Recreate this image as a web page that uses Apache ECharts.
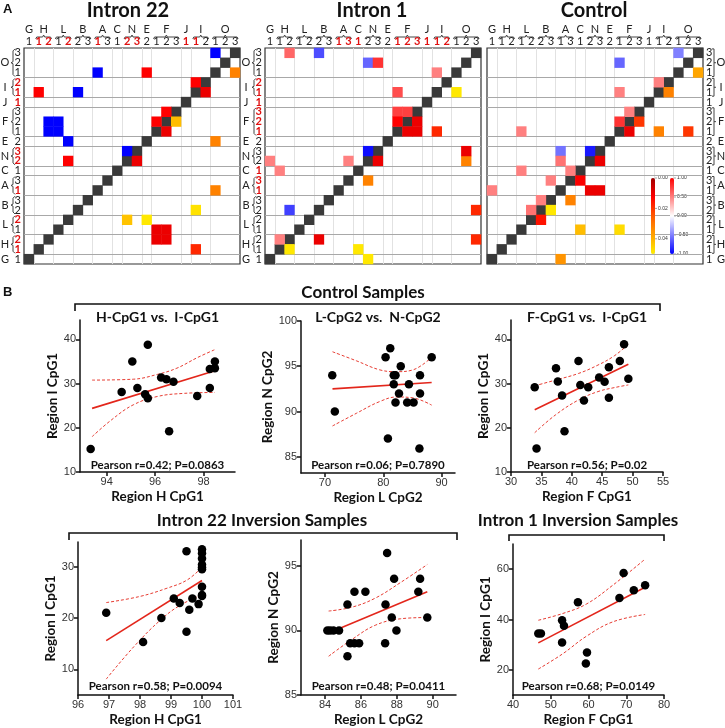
<!DOCTYPE html>
<html><head><meta charset="utf-8">
<script src="https://cdn.jsdelivr.net/npm/echarts@6/dist/echarts.min.js"></script>
<style>html,body{margin:0;padding:0;background:#fff}#c{width:725px;height:728px}</style>
</head><body><div id="c"></div>
<script>
// ================= Panel A data =================
const groups = [['G',[1]],['H',[1,2]],['L',[1,2]],['B',[2,3]],['A',[1,3]],['C',[1]],['N',[2,3]],['E',[2]],['F',[1,2,3]],['J',[1]],['I',[1,2]],['O',[1,2,3]]];
const sites = ['G1','H1','H2','L1','L2','B2','B3','A1','A3','C1','N2','N3','E2','F1','F2','F3','J1','I1','I2','O1','O2','O3'];
const heatTitles = ['Intron 22','Intron 1','Control'];
// [site a, site b, Pearson r, P value]
const pairsIntron22 = [
  ['O1','O3',-1.0,0.032],['A1','O1',-1.0,0.032],['E2','O1',1.0,0.032],
  ['I1','I2',1.0,0.010],['H1','I1',1.0,0.018],['B2','I1',-1.0,0.048],
  ['F2','F3',1.0,0.042],['F1','F2',1.0,0.010],
  ['H2','F1',-1.0,0.010],['H2','F2',-1.0,0.010],['L1','F1',-1.0,0.010],['L1','F2',-1.0,0.010],
  ['L2','E2',-1.0,0.049],['N2','N3',-1.0,0.010],['L2','N2',1.0,0.043]
];
const pairsIntron1 = [
  ['H2','O3',0.6,0.018],['B2','O3',-0.7,0.018],['N2','O2',-0.6,0.032],['N3','O2',0.8,0.010],
  ['I1','O1',0.5,0.049],['F1','I1',0.7,0.018],['F1','F3',0.75,0.010],['F2','F3',0.75,0.010],
  ['F1','F2',1.0,0.010],['N2','N3',-0.95,0.010],['G1','N2',0.5,0.049],['A3','N2',0.5,0.032],
  ['H1','C1',0.5,0.049],['H2','B2',-0.75,0.010],['H1','H2',0.5,0.049]
];
const pairsControl = [
  ['O1','O3',-0.5,0.038],['F1','O2',-0.6,0.020],['I1','I2',0.5,0.032],['F1','I1',0.5,0.032],
  ['F2','F3',0.5,0.020],['F1','F2',0.8,0.010],['L1','F1',0.5,0.047],['A1','N3',-0.55,0.010],
  ['N2','N3',-0.9,0.010],['A1','N2',0.55,0.010],['L1','C1',0.5,0.042],['A3','C1',0.5,0.012],
  ['B3','A3',0.5,0.032],['G1','A1',0.5,0.035],['B2','B3',0.5,0.049],['L2','B2',0.55,0.015]
];
const redTopIntron22 = ['H1','H2','L2','A1','N2','N3','J1','I1'];
const redSideIntron22 = ['H1','H2','L2','A1','N2','N3','J1','I1','I2'];
const redTopIntron1 = ['A1','A3','C1','F1','F2','F3','J1','I1','I2'];
const redSideIntron1 = ['A1','A3','C1','F1','F2','F3','J1','I1','I2'];
const pTicks = ['0.00','0.02','0.04'];
const rTicks = ['1.00','0.50','0.00','-0.50','-1.00'];

// ================= Panel B data =================
// Control: H-CpG1 vs I-CpG1
const ctrlHI_H = [93.34,94.62,95.06,95.27,95.59,95.70,95.70,96.25,96.47,96.58,96.76,97.74,98.26,98.26,98.47,98.47];
const ctrlHI_I = [15.2,28.1,35.0,29.0,27.6,26.7,38.8,31.4,31.0,19.2,30.4,27.2,33.3,29.0,33.5,35.0];
const ctrlHI_fit = [[93.4,24.4],[98.47,32.9]];
const ctrlHI_up = [[93.4,30.8],[95.1,31.0],[96.1,32.1],[96.9,33.5],[97.75,35.9],[98.47,37.7]];
const ctrlHI_lo = [[93.4,18.0],[94.2,21.8],[95.1,25.2],[96.1,27.1],[97.2,27.8],[98.47,28.0]];
// Control: L-CpG2 vs N-CpG2
const ctrlLN_L = [71.26,71.7,80.4,81.2,80.8,81.8,82.1,81.8,82.1,83.0,82.7,84.1,84.4,85.2,86.3,86.3,86.2,88.3];
const ctrlLN_N = [94.0,90.0,96.0,97.0,87.0,94.0,94.0,93.0,91.0,95.0,92.0,91.0,93.0,91.0,94.0,92.0,85.9,96.0];
const ctrlLN_fit = [[71.3,92.5],[88.3,93.2]];
const ctrlLN_up = [[71.3,96.6],[75.4,95.6],[79.4,94.6],[82.3,94.4],[85.1,94.6],[88.3,96.0]];
const ctrlLN_lo = [[71.3,88.4],[75.4,89.8],[79.4,91.1],[82.3,91.6],[85.1,91.5],[88.3,90.7]];
// Control: F-CpG1 vs I-CpG1
const ctrlFI_F = [33.9,34.2,37.4,37.7,38.4,38.8,41.1,41.4,42.0,42.7,44.5,45.4,46.1,46.1,47.9,48.6,49.3];
const ctrlFI_I = [29.2,15.3,33.5,30.5,27.3,19.2,35.1,29.7,26.2,29.2,31.4,30.4,33.7,26.8,35.1,38.9,31.1];
const ctrlFI_fit = [[33.9,24.1],[49.3,34.4]];
const ctrlFI_up = [[33.9,29.5],[37.3,30.8],[41.1,32.3],[44.3,34.2],[47.0,36.3],[49.3,38.9]];
const ctrlFI_lo = [[33.9,18.9],[37.3,22.9],[41.1,26.3],[44.3,28.2],[47.0,29.1],[49.3,29.7]];
// Intron 22 inversion: H-CpG1 vs I-CpG1
const i22HI_H = [96.91,99.5,98.1,98.69,99.09,99.28,99.5,99.59,99.69,99.89,100,100,100,100,100,100,100,100,100];
const i22HI_I = [21.0,33.0,15.3,20.0,23.8,22.9,17.3,21.6,23.8,22.7,33.4,32.6,31.6,30.4,29.9,29.5,26.1,24.5,24.3];
const i22HI_fit = [[96.91,15.6],[100,27.3]];
const i22HI_up = [[96.91,23.0],[98.0,24.2],[98.87,25.8],[99.52,27.4],[100,29.9]];
const i22HI_lo = [[96.91,8.1],[97.8,14.4],[98.66,19.6],[99.3,22.5],[100,24.5]];
// Intron 22 inversion: L-CpG2 vs N-CpG2
const i22LN_L = [84.13,84.28,84.47,84.78,85.25,85.64,86.25,85.25,85.4,85.64,85.9,87.46,87.37,87.35,87.72,87.85,87.98,89.2,89.3,89.7];
const i22LN_N = [90,90,90,90,92,93,93,88,89,89,89,96,92,89,91,94,90,93,94,91];
const i22LN_fit = [[84.2,89.8],[89.7,93.0]];
const i22LN_up = [[84.2,91.5],[85.5,91.8],[86.8,92.5],[88.2,93.7],[89.7,95.1]];
const i22LN_lo = [[84.2,88.0],[85.5,89.3],[86.8,90.4],[88.2,90.9],[89.7,91.0]];
// Intron 1 inversion: F-CpG1 vs I-CpG1
const i1FI_F = [46.7,47.4,53.0,53.5,53.0,57.2,59.6,59.3,68.2,69.3,72.0,75.0];
const i1FI_I = [34.4,34.4,39.7,37.5,30.9,46.9,26.9,22.5,48.5,58.5,51.6,53.6];
const i1FI_fit = [[46.7,30.7],[75.0,52.8]];
const i1FI_up = [[46.7,39.7],[53.2,42.4],[59.4,46.1],[66.5,53.7],[75.0,64.0]];
const i1FI_lo = [[46.7,20.3],[53.2,26.4],[59.4,33.3],[66.5,39.1],[75.0,42.0]];

// ================= build =================
const FONT = 'Lato, "Open Sans", sans-serif';
const ARIAL = '"Liberation Sans", Arial, sans-serif';
const chart = echarts.init(document.getElementById('c'), null, {width:725, height:728});
const option = {animation:false, backgroundColor:'#fff', grid:[], xAxis:[], yAxis:[], series:[], title:[], visualMap:[]};

const heatPairs = [pairsIntron22, pairsIntron1, pairsControl];
const redTop = [redTopIntron22, redTopIntron1, []];
const redSide = [redSideIntron22, redSideIntron1, []];
const heatBoxes = [{left:24,top:48,width:216,height:216},{left:265,top:48,width:216,height:216},{left:487,top:48,width:216,height:216}];
const titleX = [128, 372, 594];
const rSeries = [], pSeries = [], overlay = [];
const boundaries = [];
{ let c = 0; groups.forEach(g => { c += g[1].length; if (c < sites.length) boundaries.push(c); }); }

heatBoxes.forEach((box, k) => {
  const gi = option.grid.length;
  option.grid.push(Object.assign({show:true, borderColor:'#333', borderWidth:1.2, backgroundColor:'#fff'}, box));
  const topSet = new Set(redTop[k]), sideSet = new Set(redSide[k]);
  const rich = {k:{color:'#222', fontSize:11, fontFamily:FONT}, r:{color:'#e01010', fontSize:11, fontWeight:'bold', fontFamily:FONT}};
  const cx = option.xAxis.length;
  option.xAxis.push({type:'category', gridIndex:gi, data:sites, position:'top', axisLine:{show:false}, axisTick:{show:false}, splitLine:{show:false},
    axisLabel:{interval:0, margin:1, formatter:v => (topSet.has(v)?'{r|':'{k|') + v.slice(1) + '}', rich}});
  const ox = option.xAxis.length;
  option.xAxis.push({type:'value', gridIndex:gi, min:0, max:sites.length, show:false});
  const cy = option.yAxis.length;
  option.yAxis.push({type:'category', gridIndex:gi, data:sites, position:k===2?'right':'left', axisLine:{show:false}, axisTick:{show:false}, splitLine:{show:false},
    axisLabel:{interval:0, margin:3, formatter:v => (sideSet.has(v)?'{r|':'{k|') + v.slice(1) + '}', rich}});
  const oy = option.yAxis.length;
  option.yAxis.push({type:'value', gridIndex:gi, min:0, max:sites.length, show:false});
  overlay.push({ox, oy, box});
  option.series.push({type:'lines', coordinateSystem:'cartesian2d', xAxisIndex:ox, yAxisIndex:oy, silent:true, z:1,
    lineStyle:{color:'#e2e2e2', width:1, opacity:1}, data: boundaries.map(b => ({coords:[[b,0],[b,sites.length]]}))});
  option.series.push({type:'lines', coordinateSystem:'cartesian2d', xAxisIndex:ox, yAxisIndex:oy, silent:true, z:1,
    lineStyle:{color:'#a8a8a8', width:1.2, opacity:1}, data: boundaries.map(b => ({coords:[[0,b],[sites.length,b]]}))});
  option.series.push({type:'heatmap', xAxisIndex:cx, yAxisIndex:cy, z:3, silent:true, itemStyle:{color:'#3a3a3a'},
    data: sites.map(s => [s, s, 1])});
  rSeries.push(option.series.length);
  option.series.push({type:'heatmap', xAxisIndex:cx, yAxisIndex:cy, z:3, silent:true,
    data: heatPairs[k].map(([a,b,r]) => [a, b, r])});
  pSeries.push(option.series.length);
  option.series.push({type:'heatmap', xAxisIndex:cx, yAxisIndex:cy, z:3, silent:true,
    data: heatPairs[k].map(([a,b,r,p]) => [b, a, p])});
  option.title.push({text:heatTitles[k], left:titleX[k], top:1, textAlign:'center', textVerticalAlign:'top', padding:0,
    textStyle:{fontFamily:FONT, fontWeight:'bold', fontSize:20, color:'#111'}});
});

option.visualMap.push({type:'continuous', min:0, max:0.05, inverse:true, seriesIndex:pSeries, calculable:false,
  left:651, top:178, itemWidth:4, itemHeight:76, padding:0, text:null, showLabel:false,
  inRange:{color:['#a00000','#ff0000','#ff5a00','#ffa200','#ffee00']}});
option.visualMap.push({type:'continuous', min:-1, max:1, seriesIndex:rSeries, calculable:false,
  left:670, top:178, itemWidth:4, itemHeight:76, padding:0, text:null, showLabel:false,
  inRange:{color:['#0000ff','#ffffff','#ff0000']}});

// scatter plots
const zip = (xs, ys) => xs.map((x, i) => [x, ys[i]]);
const scatterPlots = [
  {box:{left:80,top:320,width:155,height:152}, x:ctrlHI_H, y:ctrlHI_I, fit:ctrlHI_fit, up:ctrlHI_up, lo:ctrlHI_lo,
   xr:[92.9,99.3], xt:[94,96,98], yr:[10,44.4], yt:[10,20,30,40], xn:'Region H CpG1', yn:'Region I CpG1', xg:18, yg:16,
   title:'H-CpG1 vs.  I-CpG1', stat:'Pearson r=0.42; P=0.0863', ty:310, sy:459},
  {box:{left:301,top:321,width:154,height:152}, x:ctrlLN_L, y:ctrlLN_N, fit:ctrlLN_fit, up:ctrlLN_up, lo:ctrlLN_lo,
   xr:[65.9,92.3], xt:[70,80,90], yr:[83.2,100], yt:[85,90,95,100], xn:'Region L CpG2', yn:'Region N CpG2', xg:18, yg:17,
   title:'L-CpG2 vs.  N-CpG2', stat:'Pearson r=0.06; P=0.7890', ty:310, sy:459},
  {box:{left:511,top:320,width:152,height:152}, x:ctrlFI_F, y:ctrlFI_I, fit:ctrlFI_fit, up:ctrlFI_up, lo:ctrlFI_lo,
   xr:[30,55], xt:[30,35,40,45,50,55], yr:[10,44.4], yt:[10,20,30,40], xn:'Region F CpG1', yn:'Region I CpG1', xg:18, yg:14,
   title:'F-CpG1 vs.  I-CpG1', stat:'Pearson r=0.56; P=0.02', ty:310, sy:459},
  {box:{left:78,top:542,width:155,height:153}, x:i22HI_H, y:i22HI_I, fit:i22HI_fit, up:i22HI_up, lo:i22HI_lo,
   xr:[96,101], xt:[96,97,98,99,100,101], yr:[5,34.8], yt:[10,20,30], xn:'Region H CpG1', yn:'Region I CpG1', xg:18, yg:16,
   title:'', stat:'Pearson r=0.58; P=0.0094', sy:680},
  {box:{left:301,top:540,width:155,height:155}, x:i22LN_L, y:i22LN_N, fit:i22LN_fit, up:i22LN_up, lo:i22LN_lo,
   xr:[82.66,91.3], xt:[84,86,88,90], yr:[85,97], yt:[85,90,95], xn:'Region L CpG2', yn:'Region N CpG2', xg:18, yg:17,
   title:'', stat:'Pearson r=0.48; P=0.0411', sy:680},
  {box:{left:513,top:544,width:151,height:151}, x:i1FI_F, y:i1FI_I, fit:i1FI_fit, up:i1FI_up, lo:i1FI_lo,
   xr:[40,80], xt:[40,50,60,70,80], yr:[10,70], yt:[20,40,60], xn:'Region F CpG1', yn:'Region I CpG1', xg:18, yg:18,
   title:'', stat:'Pearson r=0.68; P=0.0149', sy:680}
];
const axisCommon = {
  axisLine:{show:true, onZero:false, lineStyle:{color:'#111', width:1.5}},
  axisTick:{show:true, length:4, lineStyle:{color:'#111', width:1.5}},
  splitLine:{show:false},
  nameLocation:'middle',
  nameTextStyle:{fontFamily:FONT, fontWeight:'bold', fontSize:13.5, color:'#111'}
};
const RED = '#e3261b';
scatterPlots.forEach(sp => {
  const gi = option.grid.length;
  option.grid.push(Object.assign({}, sp.box));
  const xi = option.xAxis.length, yi = option.yAxis.length;
  option.xAxis.push(Object.assign({}, axisCommon, {type:'value', gridIndex:gi, min:sp.xr[0], max:sp.xr[1], name:sp.xn, nameGap:sp.xg,
    axisTick:Object.assign({}, axisCommon.axisTick, {customValues:sp.xt}),
    axisLabel:{customValues:sp.xt, color:'#333', fontSize:11, fontFamily:ARIAL, margin:4}}));
  option.yAxis.push(Object.assign({}, axisCommon, {type:'value', gridIndex:gi, min:sp.yr[0], max:sp.yr[1], name:sp.yn, nameGap:sp.yg,
    axisTick:Object.assign({}, axisCommon.axisTick, {customValues:sp.yt}),
    axisLabel:{customValues:sp.yt, color:'#333', fontSize:11, fontFamily:ARIAL, margin:4}}));
  const lineBase = {type:'line', xAxisIndex:xi, yAxisIndex:yi, showSymbol:false, symbol:'none', silent:true, z:2};
  option.series.push(Object.assign({}, lineBase, {data:sp.up, smooth:0.4, lineStyle:{color:RED, width:0.9, type:[3,2]}}));
  option.series.push(Object.assign({}, lineBase, {data:sp.lo, smooth:0.4, lineStyle:{color:RED, width:0.9, type:[3,2]}}));
  option.series.push(Object.assign({}, lineBase, {data:sp.fit, lineStyle:{color:RED, width:1.6}}));
  option.series.push({type:'scatter', xAxisIndex:xi, yAxisIndex:yi, z:4, silent:true, symbol:'circle', symbolSize:8.5,
    itemStyle:{color:'#000', opacity:1}, data:zip(sp.x, sp.y)});
  const cxp = sp.box.left + sp.box.width / 2;
  if (sp.title) option.title.push({text:sp.title, left:cxp, top:sp.ty, textAlign:'center', textVerticalAlign:'top', padding:0,
    textStyle:{fontFamily:FONT, fontWeight:'bold', fontSize:14, color:'#111'}});
  option.title.push({text:sp.stat, left:cxp, top:sp.sy, textAlign:'center', textVerticalAlign:'top', padding:0,
    textStyle:{fontFamily:FONT, fontWeight:'bold', fontSize:11.5, color:'#111'}});
});

const headT = (text, left, top, size) => ({text, left, top, textAlign:'center', textVerticalAlign:'top', padding:0,
  textStyle:{fontFamily:FONT, fontWeight:'bold', fontSize:size, color:'#111'}});
option.title.push({text:'A', left:3, top:3, padding:0, textStyle:{fontFamily:ARIAL, fontWeight:'bold', fontSize:13, color:'#111'}});
option.title.push({text:'B', left:3, top:286, padding:0, textStyle:{fontFamily:ARIAL, fontWeight:'bold', fontSize:13, color:'#111'}});
option.title.push(headT('Control Samples', 363, 284, 17));
option.title.push(headT('Intron 22 Inversion Samples', 262, 512, 17));
option.title.push(headT('Intron 1 Inversion Samples', 578, 512, 17));

chart.setOption(option);

// ---- decorations: group letters / brackets, panel brackets, colorbar labels ----
const els = [];
const stroke = {stroke:'#444', fill:null, lineWidth:1};
overlay.forEach(({ox, oy, box}, k) => {
  const px = v => chart.convertToPixel({xAxisIndex:ox}, v);
  const py = v => chart.convertToPixel({yAxisIndex:oy}, v);
  const top = box.top, left = box.left, right = box.left + box.width;
  let idx = 0;
  groups.forEach(([g, nums]) => {
    const a = idx, b = idx + nums.length - 1; idx += nums.length;
    const xa = px(a + 0.5), xb = px(b + 0.5), xm = (xa + xb) / 2;
    els.push({type:'text', x:xm, y:top - 19, style:{text:g, align:'center', verticalAlign:'middle', fontSize:11, fontFamily:FONT, fill:'#222'}});
    if (nums.length > 1) {
      els.push({type:'polyline', shape:{points:[[xa-3,top-9],[xa-2,top-11],[xm-1,top-11],[xm,top-13],[xm+1,top-11],[xb+2,top-11],[xb+3,top-9]]}, style:stroke});
    }
    const ya = py(a + 0.5), yb = py(b + 0.5), ym = (ya + yb) / 2;
    if (k < 2) {
      els.push({type:'text', x:left - 19, y:ym, style:{text:g, align:'center', verticalAlign:'middle', fontSize:11, fontFamily:FONT, fill:'#222'}});
      if (nums.length > 1) {
        const x0 = left - 11;
        els.push({type:'polyline', shape:{points:[[x0+2,yb-4],[x0,yb-2],[x0,ym-1],[x0-2,ym],[x0,ym+1],[x0,ya+2],[x0+2,ya+4]]}, style:stroke});
      }
    } else {
      els.push({type:'text', x:right + 18, y:ym, style:{text:g, align:'center', verticalAlign:'middle', fontSize:11, fontFamily:FONT, fill:'#222'}});
      if (nums.length > 1) {
        const x0 = right + 11;
        els.push({type:'polyline', shape:{points:[[x0-2,yb-4],[x0,yb-4],[x0,ya+4],[x0-2,ya+4]]}, style:stroke});
        els.push({type:'line', shape:{x1:x0, y1:ym, x2:x0+2, y2:ym}, style:stroke});
      }
    }
  });
});
// panel B brackets
const bracket = (x1, x2, y, d) => ({type:'polyline', shape:{points:[[x1,y+d],[x1,y],[x2,y],[x2,y+d]]}, style:{stroke:'#111', fill:null, lineWidth:1.6}});
els.push(bracket(75, 660, 304, 7));
els.push(bracket(69, 457, 533, 7));
els.push(bracket(509, 664, 535, 6));
// colorbar tick labels
const cbTop = 178, cbH = 76;
pTicks.forEach((t, i) => {
  const y = cbTop + cbH * (i * 0.02) / 0.05;
  els.push({type:'line', shape:{x1:655, y1:y, x2:657, y2:y}, style:{stroke:'#666', lineWidth:0.6}});
  els.push({type:'text', x:658, y:y, style:{text:t, align:'left', verticalAlign:'middle', fontSize:5, fontFamily:ARIAL, fill:'#333'}});
});
rTicks.forEach((t, i) => {
  const y = cbTop + cbH * i / 4;
  els.push({type:'line', shape:{x1:674, y1:y, x2:676, y2:y}, style:{stroke:'#666', lineWidth:0.6}});
  els.push({type:'text', x:677, y:y, style:{text:t, align:'left', verticalAlign:'middle', fontSize:5, fontFamily:ARIAL, fill:'#333'}});
});
chart.setOption({graphic:{elements:els}});
</script></body></html>
